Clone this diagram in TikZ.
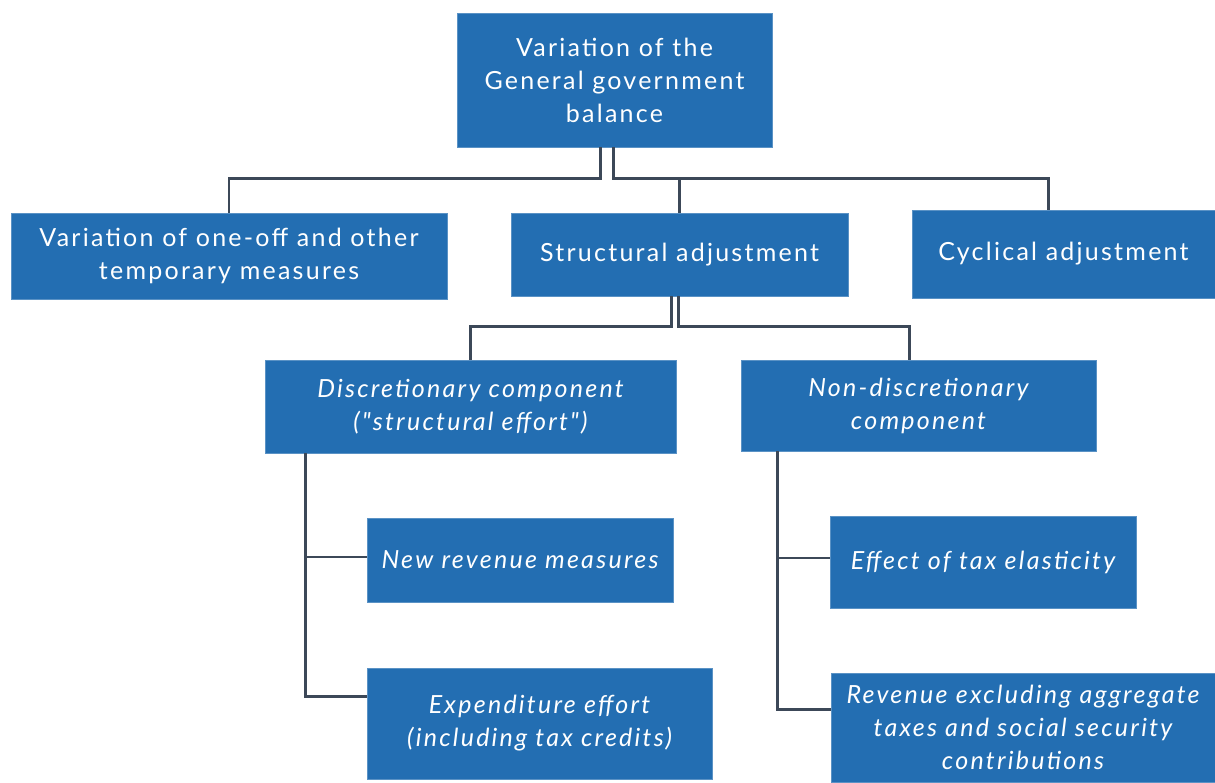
\documentclass[tikz,border=0pt]{standalone}
\usepackage{fontspec}
\setmainfont[LetterSpace=9, Ligatures=TeXOff]{Lato}
\definecolor{boxblue}{RGB}{35,110,178}
\definecolor{linkgrey}{RGB}{60,72,88}

\begin{document}
\begin{tikzpicture}[x=1pt,y=-1pt,
    box/.style={rectangle, fill=boxblue, draw=boxblue!75!white, line width=0.8pt,
        text=white, align=center, inner sep=0pt, font=\fontsize{25}{33}\selectfont},
    ibox/.style={box, font=\fontsize{25}{33}\selectfont\itshape},
    link/.style={draw=linkgrey, line width=2.5pt}]
    \useasboundingbox (0,0) rectangle (1215,782);
    % top level
    \node[box, minimum width=315pt, minimum height=134pt] (balance) at (614.5,80) {Variation of the\\General government\\balance};
    \node[box, minimum width=436pt, minimum height=86pt] (oneoff) at (229,256) {Variation of one-off and other\\temporary measures};
    \node[box, minimum width=337pt, minimum height=83pt] (structural) at (679.5,254.5) {Structural adjustment};
    \node[box, minimum width=303pt, minimum height=88pt] (cyclical) at (1063.5,254) {Cyclical adjustment};
    % components
    \node[ibox, minimum width=411pt, minimum height=93pt] (discr) at (470.5,406.5) {Discretionary component\\("structural effort")};
    \node[ibox, minimum width=355pt, minimum height=91pt] (nondiscr) at (918.5,405.5) {Non-discretionary\\component};
    \node[ibox, minimum width=306pt, minimum height=84pt] (newrev) at (520,560) {New revenue measures};
    \node[ibox, minimum width=345pt, minimum height=111pt] (expend) at (539.5,723.5) {Expenditure effort\\(including tax credits)};
    \node[ibox, minimum width=306pt, minimum height=92pt] (elast) at (983,562) {Effect of tax elasticity};
    \node[ibox, minimum width=384pt, minimum height=109pt] (revexcl) at (1023,727.5) {Revenue excluding aggregate\\taxes and social security\\contributions};
    % connectors
    \draw[link] ([xshift=-14pt]balance.south) -- ++(0,31) -| (oneoff.north);
    \draw[link] ([xshift=-1pt]balance.south) -- ++(0,31) -| (structural.north);
    \draw[link] ([xshift=-1pt]balance.south) -- ++(0,31) -| ([xshift=-15pt]cyclical.north);
    \draw[link] ([xshift=-8pt]structural.south) -- ++(0,30) -| (discr.north);
    \draw[link] ([xshift=-1pt]structural.south) -- ++(0,30) -| ([xshift=-9pt]nondiscr.north);
    \draw[link] ([xshift=-165pt]discr.south) |- ([yshift=3pt]newrev.west);
    \draw[link] ([xshift=-165pt]discr.south) |- ([yshift=27pt]expend.west);
    \draw[link] ([xshift=-141pt]nondiscr.south) |- ([yshift=4pt]elast.west);
    \draw[link] ([xshift=-141pt]nondiscr.south) |- ([yshift=18pt]revexcl.west);
\end{tikzpicture}
\end{document}
